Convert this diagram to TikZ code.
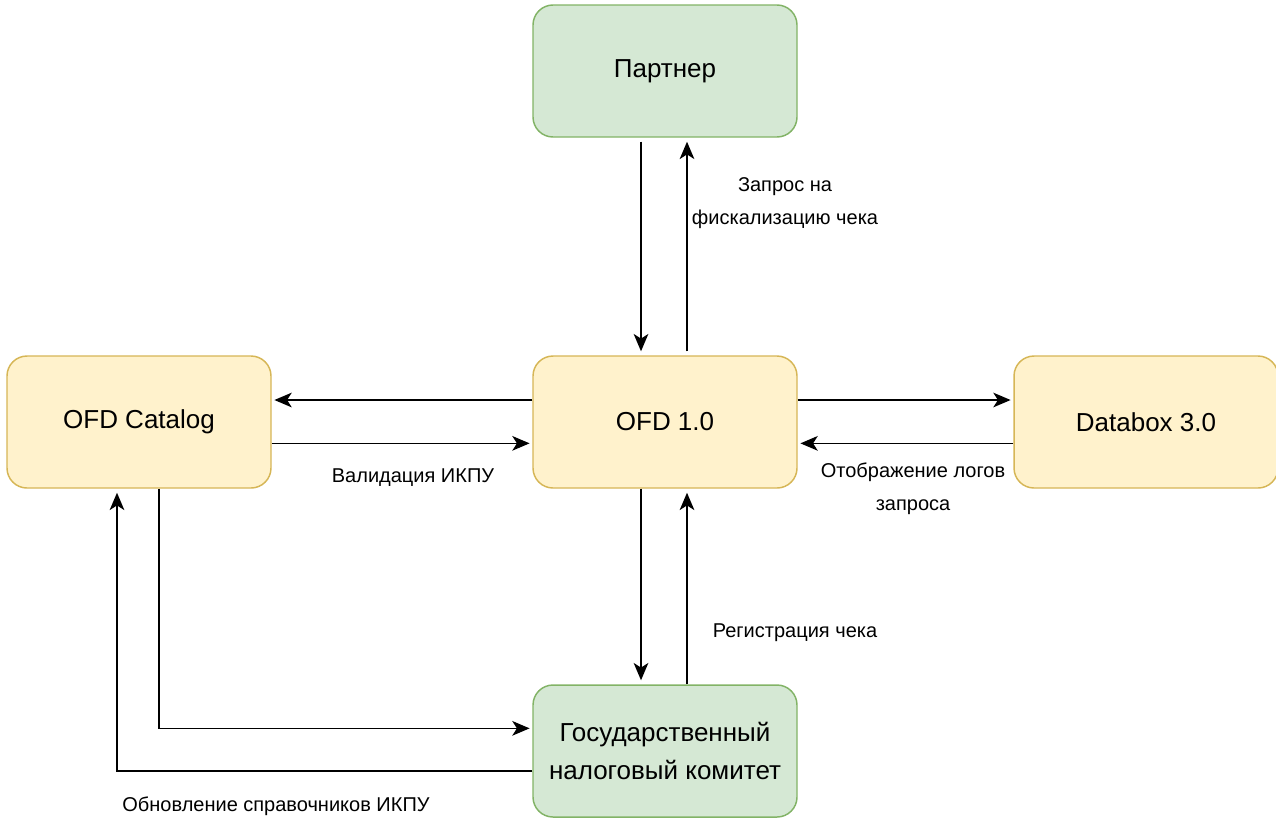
\documentclass[tikz,border=0pt]{standalone}
\usepackage{fontspec}
\setmainfont{Liberation Sans}
\usepackage{xcolor}
\usetikzlibrary{positioning,calc,arrows.meta}

\definecolor{greenfill}{HTML}{D5E8D4}
\definecolor{greenline}{HTML}{82B366}
\definecolor{yellowfill}{HTML}{FFF2CC}
\definecolor{yellowline}{HTML}{D6B656}

\tikzset{
    box/.style={draw, rounded corners=15pt, line width=1.1pt, minimum width=198pt,
        minimum height=99pt, align=center, font=\fontsize{19.5}{28}\selectfont},
    extbox/.style={box, draw=greenline, fill=greenfill},
    sysbox/.style={box, draw=yellowline, fill=yellowfill},
    flow/.style={-{Stealth[length=13pt,width=11pt,inset=3.5pt]}, line width=1.1pt, black},
    lbl/.style={align=center, font=\fontsize{15}{24.5}\selectfont}
}

\begin{document}
\begin{tikzpicture}[x=0.75pt, y=-0.75pt]
    \useasboundingbox (0,0) rectangle (1276,819);

    % Systems
    \node[extbox] (partner) at (665,71) {Партнер};
    \node[sysbox] (catalog) at (139,422) {OFD Catalog};
    \node[sysbox] (ofd) at (665,422) {OFD 1.0};
    \node[sysbox] (databox) at (1146,422) {Databox 3.0};
    \node[extbox] (gnk) at (665,751) {Государственный\\налоговый комитет};

    % Partner <-> OFD
    \draw[flow] ([xshift=-18pt,yshift=-3pt]partner.south) -- ([xshift=-18pt,yshift=3pt]ofd.north);
    \draw[flow] ([xshift=16.5pt,yshift=3pt]ofd.north) -- ([xshift=16.5pt,yshift=-3pt]partner.south);
    \node[lbl] (reqlbl) at (785,203) {Запрос на\\фискализацию чека};

    % OFD <-> Catalog
    \draw[flow] ([yshift=16.5pt]ofd.west) -- ([xshift=2pt,yshift=16.5pt]catalog.east);
    \draw[flow] ([yshift=-16pt]catalog.east) -- ([xshift=-2pt,yshift=-16pt]ofd.west);
    \node[lbl] (vallbl) at (413,478) {Валидация ИКПУ};

    % OFD <-> Databox
    \draw[flow] ([yshift=16.5pt]ofd.east) -- ([xshift=-2pt,yshift=16.5pt]databox.west);
    \draw[flow] ([yshift=-16pt]databox.west) -- ([xshift=2pt,yshift=-16pt]ofd.east);
    \node[lbl] (loglbl) at (913,489) {Отображение логов\\запроса};

    % OFD <-> GNK
    \draw[flow] ([xshift=-18pt]ofd.south) -- ([xshift=-18pt,yshift=3pt]gnk.north);
    \draw[flow] ([xshift=16.5pt]gnk.north) -- ([xshift=16.5pt,yshift=-3pt]ofd.south);
    \node[lbl] (reglbl) at (795,633) {Регистрация чека};

    % Catalog <-> GNK
    \draw[flow] ([xshift=15pt]catalog.south) |- ([xshift=-2pt,yshift=17pt]gnk.west);
    \draw[flow] ([yshift=-15pt]gnk.west) -| ([xshift=-16.5pt,yshift=-3pt]catalog.south);
    \node[lbl] (updlbl) at (276,806) {Обновление справочников ИКПУ};
\end{tikzpicture}
\end{document}
